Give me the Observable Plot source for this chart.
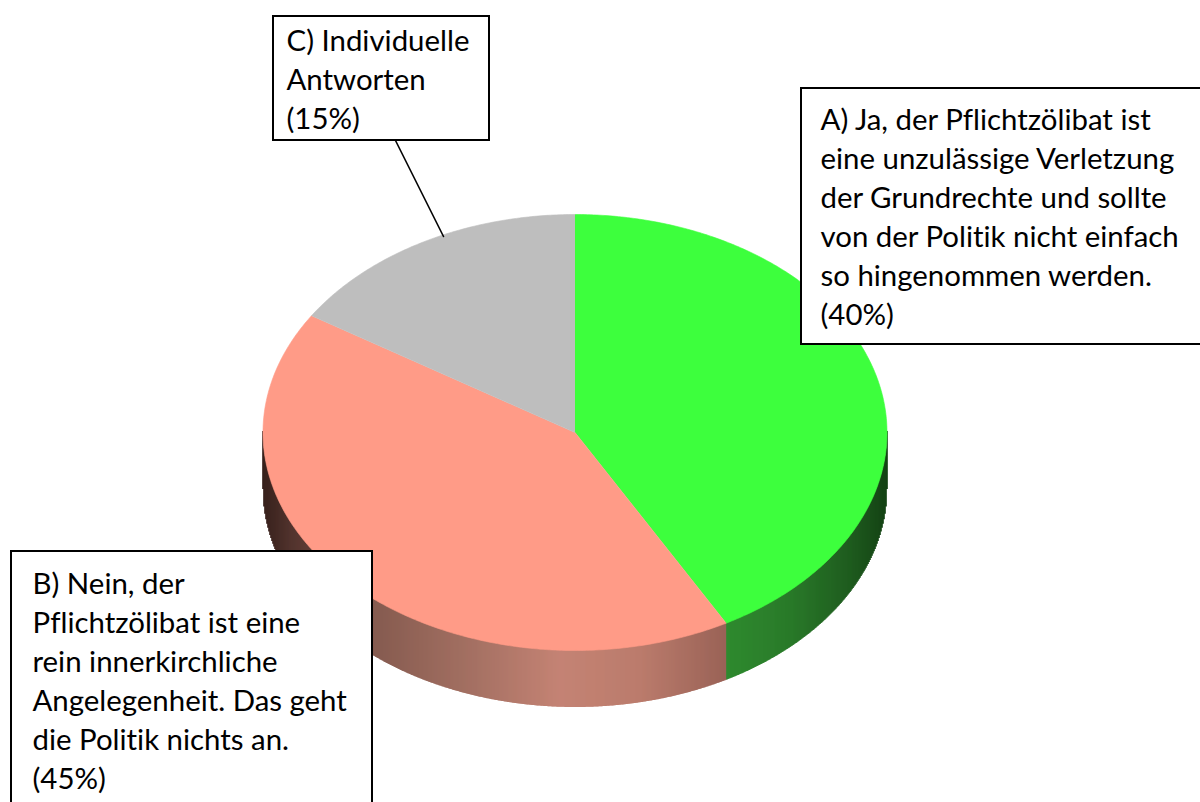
<!DOCTYPE html>
<html>
<head>
<meta charset="utf-8">
<style>html,body{margin:0;padding:0;background:#fff;overflow:hidden}svg{display:block}</style>
<script src="https://cdn.jsdelivr.net/npm/d3@7"></script>
<script src="https://cdn.jsdelivr.net/npm/@observablehq/plot@0.6"></script>
</head>
<body>
<script>
// Slice order, clockwise from 12 o'clock
const categories = ["A", "B", "C"];
// Share of the circle as drawn in the picture (the printed labels say 40/45/15)
const drawnShares = [41.95, 42.05, 16];
const topColors = ["#3dff3d", "#ff9b87", "#bebebe"];
const labels = [
  "A) Ja, der Pflichtzölibat ist\neine unzulässige Verletzung\nder Grundrechte und sollte\nvon der Politik nicht einfach\nso hingenommen werden.\n(40%)",
  "B) Nein, der\nPflichtzölibat ist eine\nrein innerkirchliche\nAngelegenheit. Das geht\ndie Politik nichts an.\n(45%)",
  "C) Individuelle\nAntworten\n(15%)"
];

// Layout of the tilted disc
const cx = 574.5, cy = 432, rx = 312, ry = 218, depth = 57;
const W = 1200, H = 802;

const arcs = d3.pie().sort(null).value(d => d)(drawnShares);
const px = a => cx + rx * Math.sin(a);
const py = a => cy - ry * Math.cos(a);

const topPts = [];
arcs.forEach((s, i) => {
  topPts.push({k: categories[i], x: cx, y: cy});
  const n = Math.ceil((s.endAngle - s.startAngle) * 100);
  for (let j = 0; j <= n; j++) {
    const a = s.startAngle + (s.endAngle - s.startAngle) * j / n;
    topPts.push({k: categories[i], x: px(a), y: py(a)});
  }
});

// Side wall lighting
const salmonWall = d3.scaleLinear()
  .domain([263, 290, 372, 470, 560, 640, 725])
  .range(["#2e1712", "#4a2a24", "#805448", "#a06a5c", "#c27e6e", "#b87666", "#965c50"]);
const greenWall = d3.scaleLinear()
  .domain([725, 790, 850, 887])
  .range(["#268626", "#207420", "#155515", "#0a3a0a"]);

const boundaryX = px(arcs[0].endAngle);
const wall = d3.range(cx - rx, cx + rx + 0.5, 1).map(x => {
  const u = (x - cx) / rx;
  const yy = cy + ry * Math.sqrt(Math.max(0, 1 - u * u));
  return {x, y1: yy - 1, y2: yy + depth, c: x < boundaryX ? salmonWall(x) : greenWall(x)};
});

const boxes = [
  {x1: 801, x2: 1230, y1: 88, y2: 344},
  {x1: 11, x2: 372, y1: 551, y2: 830},
  {x1: 273, x2: 489, y1: 16, y2: 140}
];
const texts = [
  {t: labels[0], x: 820, y: 102},
  {t: labels[1], x: 32, y: 566},
  {t: labels[2], x: 286, y: 23}
];
const leader = [{x: 395, y: 140}, {x: 443, y: 236}];

const chart = Plot.plot({
  width: W, height: H,
  margin: 0,
  style: {fontVariantLigatures: "none"},
  x: {domain: [0, W], range: [0, W], axis: null},
  y: {domain: [0, H], range: [0, H], axis: null},
  marks: [
    Plot.ruleX(wall, {x: "x", y1: "y1", y2: "y2", stroke: d => d.c, strokeWidth: 1.6}),
    Plot.line(topPts, {x: "x", y: "y", z: "k",
      fill: d => topColors[categories.indexOf(d.k)],
      stroke: d => topColors[categories.indexOf(d.k)], strokeWidth: 0.6}),
    Plot.line(leader, {x: "x", y: "y", stroke: "#000", strokeWidth: 1.6}),
    Plot.rect(boxes, {x1: "x1", x2: "x2", y1: "y1", y2: "y2", fill: "#fff", stroke: "#000", strokeWidth: 2}),
    Plot.text(texts, {x: "x", y: "y", text: "t", textAnchor: "start", lineAnchor: "top",
      fontFamily: "Lato", fontSize: 29.4, lineHeight: 39 / 29.4, fill: "#000"})
  ]
});
document.body.appendChild(chart);
</script>
</body>
</html>
